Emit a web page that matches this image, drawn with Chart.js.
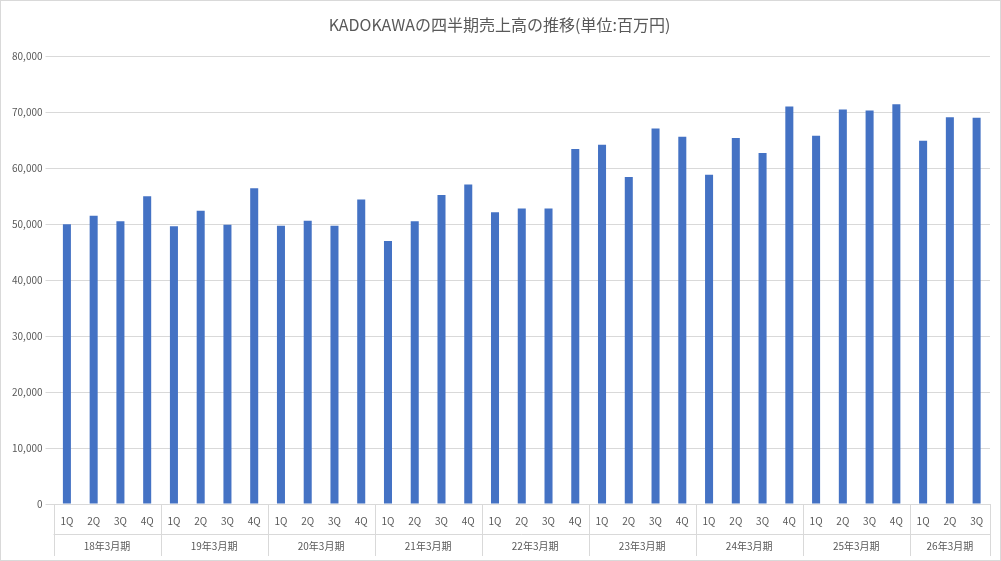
<!DOCTYPE html>
<html><head><meta charset="utf-8">
<script src="https://cdn.jsdelivr.net/npm/chart.js@4/dist/chart.umd.min.js"></script>
<style>html,body{margin:0;padding:0;background:#fff}#w{width:1001px;height:561px;position:relative;box-sizing:border-box;border:1px solid #d9d9d9}</style>
</head><body><div id="w"><canvas id="c"></canvas></div>
<script>
const years = ["18年3月期","19年3月期","20年3月期","21年3月期","22年3月期","23年3月期","24年3月期","25年3月期","26年3月期"];
const quarters = ["1Q","2Q","3Q","4Q"];
const sales = [
  50000,51500,50500,55000,
  49600,52400,49900,56400,
  49700,50600,49700,54400,
  47000,50500,55200,57100,
  52100,52800,52800,63400,
  64200,58400,67100,65600,
  58800,65400,62700,71000,
  65800,70500,70300,71400,
  64900,69100,69000
];
const labels = [], groupOf = [];
sales.forEach((v,i)=>{labels.push(quarters[i%4]); groupOf.push(years[Math.floor(i/4)]);});
const FONT = "'Noto Sans CJK JP','Noto Sans',sans-serif";
const groupPlugin = {
  id:'groups',
  afterDraw(chart){
    const x = chart.scales.x, ctx = chart.ctx, a = chart.chartArea;
    const half = (x.getPixelForValue(1)-x.getPixelForValue(0))/2;
    ctx.save();
    ctx.strokeStyle='#d9d9d9'; ctx.lineWidth=1;
    ctx.fillStyle='#595959'; ctx.font="10px "+FONT; ctx.textAlign='center'; ctx.textBaseline='middle';
    for(let g=0; g<years.length; g++){
      const s=g*4, e=Math.min(s+3, sales.length-1);
      const l=x.getPixelForValue(s)-half, r=x.getPixelForValue(e)+half;
      ctx.beginPath(); ctx.moveTo(Math.round(l)+0.5,a.bottom); ctx.lineTo(Math.round(l)+0.5,a.bottom+52); ctx.stroke();
      if(g===years.length-1){ctx.beginPath(); ctx.moveTo(Math.round(r)+0.5,a.bottom); ctx.lineTo(Math.round(r)+0.5,a.bottom+52); ctx.stroke();}
      ctx.fillText(years[g],(l+r)/2,a.bottom+42);
    }
    ctx.beginPath(); ctx.moveTo(x.left,a.bottom+30.5); ctx.lineTo(x.right,a.bottom+30.5); ctx.stroke();
    ctx.restore();
  }
};
new Chart(document.getElementById('c'),{
  type:'bar',
  data:{labels,datasets:[{data:sales,backgroundColor:'#4472C4',barPercentage:0.3,categoryPercentage:1}]},
  options:{
    responsive:true,maintainAspectRatio:false,animation:false,
    layout:{padding:{left:8,right:10,top:0,bottom:30}},
    plugins:{legend:{display:false},tooltip:{enabled:false},
      title:{display:true,text:"KADOKAWAの四半期売上高の推移(単位:百万円)",color:'#595959',font:{family:FONT,size:16,weight:'normal'},padding:{top:14,bottom:22}}},
    scales:{
      x:{grid:{display:false},border:{color:'#d9d9d9'},ticks:{color:'#595959',font:{family:FONT,size:10},maxRotation:0,autoSkip:false}},
      y:{min:0,max:80000,ticks:{stepSize:10000,color:'#595959',font:{family:FONT,size:10},callback:v=>v.toLocaleString('en-US')},
        grid:{color:'#d9d9d9'},border:{display:false}}
    }
  },
  plugins:[groupPlugin]
});
</script></body></html>
